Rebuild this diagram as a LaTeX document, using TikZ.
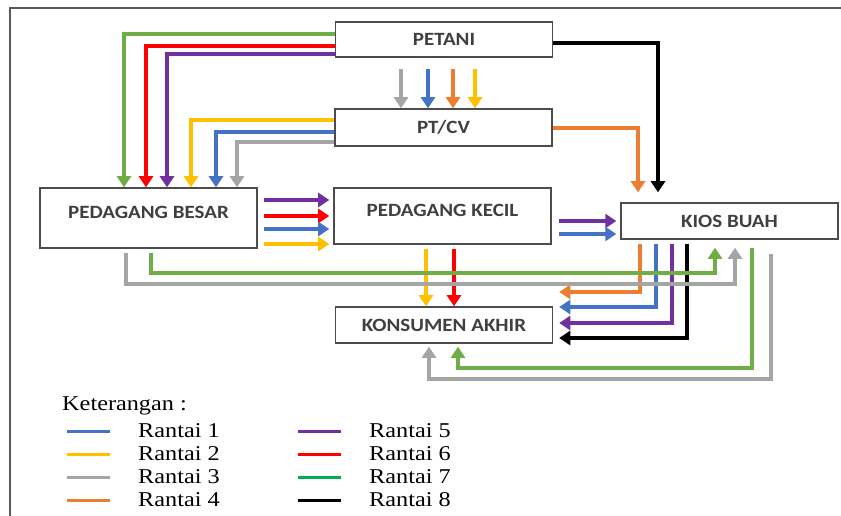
\documentclass[tikz,border=0pt]{standalone}
\usepackage{fontspec}
\newfontfamily\boxfont[FakeStretch=1.12]{Carlito}
\newfontfamily\legfont[FakeStretch=1.15]{Liberation Serif}
\usetikzlibrary{arrows.meta,calc}
\definecolor{grn}{HTML}{70AD47}
\definecolor{lgrn}{HTML}{00B050}
\definecolor{pur}{HTML}{7030A0}
\definecolor{yel}{HTML}{FFC000}
\definecolor{blu}{HTML}{4472C4}
\definecolor{gry}{HTML}{A5A5A5}
\definecolor{org}{HTML}{ED7D31}
\tikzset{box/.style={draw=black!70, line width=0.045cm, minimum width=6.51cm, minimum height=1.08cm, text=black!75, font=\boxfont\bfseries\fontsize{16}{18}\selectfont},
  flow/.style={line width=0.13cm, -{Triangle[width=0.42cm,length=0.33cm]}},
  legline/.style={line width=0.09cm},
  legtext/.style={font=\legfont\fontsize{18}{20}\selectfont, inner sep=0pt, anchor=west}}

\begin{document}
\begin{tikzpicture}[x=0.03cm,y=-0.03cm]
  \useasboundingbox (0,0) rectangle (841,516);
  \draw[black!65,line width=0.05cm] (10,516) -- (10,8) -- (841,8);

  \node[box,minimum height=1.05cm] (petani) at (444,39.5) {PETANI};
  \node[box,minimum height=1.11cm] (ptcv) at (443.5,127.5) {PT/CV};
  \node[box,minimum height=1.8cm,text depth=0.36cm] (besar) at (148.5,218) {PEDAGANG BESAR};
  \node[box,minimum height=1.68cm,text depth=0.36cm] (kecil) at (442.5,216) {PEDAGANG KECIL};
  \node[box] (kios) at (729.5,221) {KIOS BUAH};
  \node[box] (konsumen) at (444,325) {KONSUMEN AKHIR};

  % petani -> pedagang besar
  \draw[flow,grn] (petani.west |- 0,34) -| (124,0 |- besar.north);
  \draw[flow,red] (petani.west |- 0,46) -| (146,0 |- besar.north);
  \draw[flow,pur] (petani.west |- 0,54) -| (167,0 |- besar.north);
  % pt/cv -> pedagang besar
  \draw[flow,yel] (ptcv.west |- 0,120) -| (191,0 |- besar.north);
  \draw[flow,blu] (ptcv.west |- 0,132) -| (216,0 |- besar.north);
  \draw[flow,gry] (ptcv.west |- 0,142) -| (237,0 |- besar.north);
  % petani -> pt/cv
  \foreach \xx/\col in {401/gry,428/blu,453/org,475/yel}
    \draw[flow,color=\col] ($(\xx,0 |- petani.south)+(0,11)$) -- (\xx,0 |- ptcv.north);
  % ke kios buah
  \draw[flow,black] (petani.east |- 0,43) -| ($(658,0 |- kios.north)+(0,-10)$);
  \draw[flow,org] (ptcv.east |- 0,128) -| ($(638,0 |- kios.north)+(0,-10)$);
  % pedagang besar -> pedagang kecil
  \foreach \yy/\col in {200/pur,216/red,229/blu,244/yel}
    \draw[flow,color=\col] ($(besar.east |- 0,\yy)+(6,0)$) -- ($(kecil.west |- 0,\yy)+(-4,0)$);
  % pedagang kecil -> kios buah
  \foreach \yy/\col in {221/pur,234/blu}
    \draw[flow,color=\col] ($(kecil.east |- 0,\yy)+(7,0)$) -- ($(kios.west |- 0,\yy)+(-4,0)$);
  % pedagang kecil -> konsumen
  \foreach \xx/\col in {426/yel,454/red}
    \draw[flow,color=\col] ($(\xx,0 |- kecil.south)+(0,4)$) -- (\xx,0 |- konsumen.north);
  % kios buah -> konsumen
  \foreach \xx/\yy/\col in {640/292/org,656/307/blu,672/323/pur,687/338/black}
    \draw[flow,color=\col] ($(\xx,0 |- kios.south)+(0,4)$) |- ($(konsumen.east |- 0,\yy)+(6,0)$);
  % pedagang besar -> kios buah
  \draw[flow,grn] ($(151,0 |- besar.south)+(0,4)$) -- ++(0,20) -| ($(715,0 |- kios.south)+(0,8)$);
  \draw[flow,gry] ($(126,0 |- besar.south)+(0,4)$) -- ++(0,31) -| ($(735,0 |- kios.south)+(0,8)$);
  % kios buah -> konsumen (bawah)
  \draw[flow,grn] ($(752,0 |- kios.south)+(0,8)$) -- ++(0,120) -| ($(458,0 |- konsumen.south)+(0,3)$);
  \draw[flow,gry] ($(771,0 |- kios.south)+(0,14)$) -- ++(0,125) -| ($(429,0 |- konsumen.south)+(0,3)$);

  % keterangan
  \node[legtext] (ket) at (62,406) {Keterangan :};
  \foreach \n/\col in {1/blu,2/yel,3/gry,4/org} {
    \draw[legline,color=\col] (67,{408+23*\n}) -- (110,{408+23*\n});
    \node[legtext] (rantai\n) at (138,{408+23*\n}) {Rantai \n};
  }
  \foreach \n/\col in {5/pur,6/red,7/lgrn,8/black} {
    \draw[legline,color=\col] (298,{408+23*(\n-4)}) -- (341,{408+23*(\n-4)});
    \node[legtext] (rantai\n) at (369,{408+23*(\n-4)}) {Rantai \n};
  }
\end{tikzpicture}
\end{document}
